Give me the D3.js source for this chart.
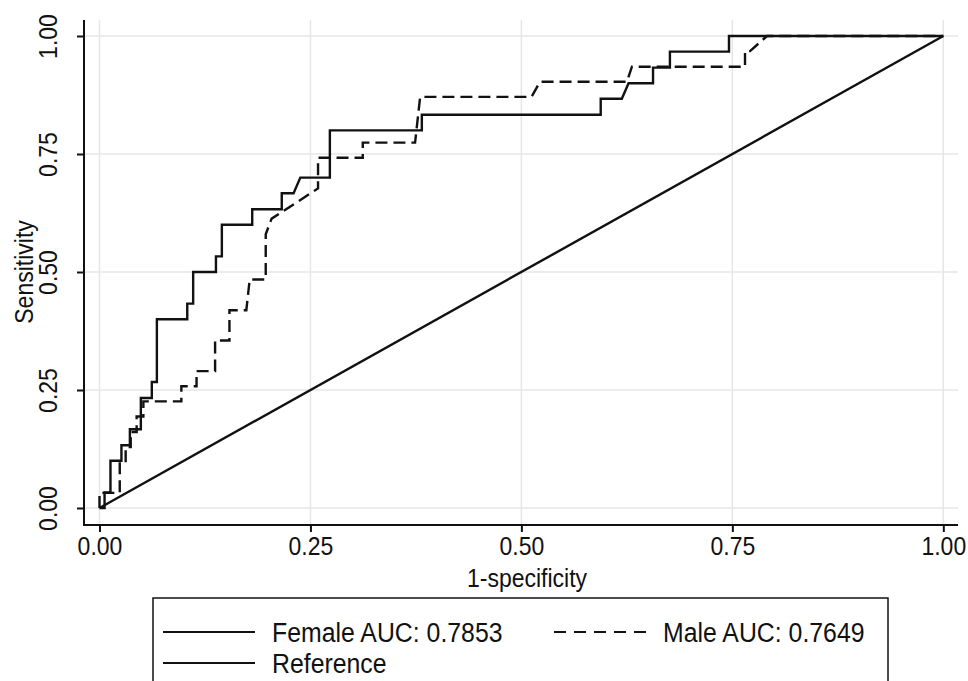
<!DOCTYPE html>
<html>
<head>
<meta charset="utf-8">
<script src="https://cdn.jsdelivr.net/npm/d3@7"></script>
<style>
  body { margin: 0; background: #fff; }
  text { font-family: "Liberation Sans", Arial, sans-serif; fill: #111; }
</style>
</head>
<body>
<div id="container"></div>
<script>
var width = 968,
    height = 681;

// ROC points (1-specificity, sensitivity)
var femaleX = [0, 0.006, 0.006, 0.013, 0.013, 0.026, 0.026, 0.036, 0.036, 0.049, 0.049, 0.062, 0.062, 0.068, 0.068,
               0.104, 0.104, 0.111, 0.111, 0.138, 0.138, 0.145, 0.145, 0.181, 0.181, 0.216, 0.216, 0.230, 0.238,
               0.273, 0.273, 0.382, 0.382, 0.594, 0.594, 0.619, 0.627, 0.656, 0.656, 0.676, 0.676, 0.746, 0.746, 1];
var femaleY = [0, 0, 0.033, 0.033, 0.1, 0.1, 0.133, 0.133, 0.167, 0.167, 0.233, 0.233, 0.267, 0.267, 0.4,
               0.4, 0.433, 0.433, 0.5, 0.5, 0.533, 0.533, 0.6, 0.6, 0.633, 0.633, 0.667, 0.667, 0.7,
               0.7, 0.8, 0.8, 0.833, 0.833, 0.867, 0.867, 0.9, 0.9, 0.933, 0.933, 0.967, 0.967, 1, 1];

var maleX = [0, 0, 0.024, 0.024, 0.031, 0.031, 0.037, 0.037, 0.044, 0.044, 0.052, 0.052, 0.097, 0.097, 0.115, 0.115,
             0.137, 0.137, 0.154, 0.154, 0.174, 0.178, 0.197, 0.197, 0.204, 0.259, 0.259, 0.312, 0.312, 0.374, 0.380,
             0.512, 0.522, 0.625, 0.631, 0.765, 0.765, 0.771, 0.791, 1];
var maleY = [0, 0.032, 0.032, 0.097, 0.097, 0.129, 0.129, 0.161, 0.161, 0.194, 0.194, 0.226, 0.226, 0.258, 0.258, 0.290,
             0.290, 0.355, 0.355, 0.419, 0.419, 0.484, 0.484, 0.58, 0.613, 0.677, 0.742, 0.742, 0.774, 0.774, 0.871,
             0.871, 0.903, 0.903, 0.935, 0.935, 0.968, 0.968, 1, 1];

var refX = [0, 1],
    refY = [0, 1];

var tickValues = [0, 0.25, 0.5, 0.75, 1];
var legendLabels = ["Female AUC: 0.7853", "Male AUC: 0.7649", "Reference"];

var squeeze = 0.92; // the original font is a bit narrower than Arial

var svg = d3.select("#container")
            .append("svg")
            .attr("width", width)
            .attr("height", height);

svg.append("rect").attr("width", width).attr("height", height).attr("fill", "#fff");

// plot region (axis lines) and data region
var region = { left: 84, right: 958, top: 20, bottom: 525 };

var scale_x = d3.scaleLinear().domain([0, 1]).range([99.5, 943.3]);
var scale_y = d3.scaleLinear().domain([0, 1]).range([508, 36]);

// grid
svg.append("g").selectAll("line")
   .data(tickValues).enter().append("line")
   .attr("x1", region.left).attr("x2", region.right)
   .attr("y1", function(d) { return scale_y(d); })
   .attr("y2", function(d) { return scale_y(d); })
   .attr("stroke", "#e6e6e6").attr("stroke-width", 1.5);

svg.append("g").selectAll("line")
   .data(tickValues).enter().append("line")
   .attr("y1", region.top).attr("y2", region.bottom)
   .attr("x1", function(d) { return scale_x(d); })
   .attr("x2", function(d) { return scale_x(d); })
   .attr("stroke", "#e6e6e6").attr("stroke-width", 1.5);

// curves
function toPoints(xs, ys) {
  return xs.map(function(d, i) { return [d, ys[i]]; });
}

var line_generator = d3.line()
    .x(function(d) { return scale_x(d[0]); })
    .y(function(d) { return scale_y(d[1]); });

svg.append("path")
   .attr("d", line_generator(toPoints(refX, refY)))
   .attr("fill", "none").attr("stroke", "#111").attr("stroke-width", 2.4);

svg.append("path")
   .attr("d", line_generator(toPoints(maleX, maleY)))
   .attr("fill", "none").attr("stroke", "#111").attr("stroke-width", 2.4)
   .attr("stroke-dasharray", "12,6");

svg.append("path")
   .attr("d", line_generator(toPoints(femaleX, femaleY)))
   .attr("fill", "none").attr("stroke", "#111").attr("stroke-width", 2.4);

// axes
var x_axis = d3.axisBottom(scale_x).tickValues(tickValues).tickFormat(d3.format(".2f")).tickSize(7).tickPadding(5),
    y_axis = d3.axisLeft(scale_y).tickValues(tickValues).tickFormat(d3.format(".2f")).tickSize(7);

var gx = svg.append("g")
    .attr("transform", "translate(0," + region.bottom + ")")
    .call(x_axis);
gx.select(".domain").remove();
gx.selectAll("line").attr("stroke", "#111").attr("stroke-width", 2);
gx.selectAll("text").attr("font-size", 25).attr("fill", "#111")
  .attr("transform", "scale(" + squeeze + ",1)")
  .attr("font-family", "'Liberation Sans', Arial, sans-serif");

var gy = svg.append("g")
    .attr("transform", "translate(" + region.left + ",0)")
    .call(y_axis);
gy.select(".domain").remove();
gy.selectAll("line").attr("stroke", "#111").attr("stroke-width", 2);
gy.selectAll("text")
  .attr("x", null).attr("dy", null)
  .attr("text-anchor", "middle")
  .attr("transform", "translate(-27,0) rotate(-90) scale(" + squeeze + ",1)")
  .attr("font-size", 25).attr("fill", "#111")
  .attr("font-family", "'Liberation Sans', Arial, sans-serif");

svg.append("line")
   .attr("x1", region.left).attr("x2", region.left)
   .attr("y1", region.top).attr("y2", region.bottom + 1)
   .attr("stroke", "#111").attr("stroke-width", 2);
svg.append("line")
   .attr("x1", region.left - 1).attr("x2", region.right)
   .attr("y1", region.bottom).attr("y2", region.bottom)
   .attr("stroke", "#111").attr("stroke-width", 2);

// axis titles
svg.append("text")
   .attr("transform", "translate(527,587) scale(" + squeeze + ",1)")
   .attr("text-anchor", "middle").attr("font-size", 25)
   .text("1-specificity");

svg.append("text")
   .attr("transform", "translate(33," + ((scale_y(0) + scale_y(1)) / 2) + ") rotate(-90) scale(" + squeeze + ",1)")
   .attr("text-anchor", "middle").attr("font-size", 25)
   .text("Sensitivity");

// legend
var legend = svg.append("g");
legend.append("rect")
   .attr("x", 153).attr("y", 598).attr("width", 735).attr("height", 100)
   .attr("fill", "#fff").attr("stroke", "#111").attr("stroke-width", 1.5);

var legendItems = [
  { label: legendLabels[0], x: 163, y: 632, dash: null },
  { label: legendLabels[1], x: 554, y: 632, dash: "12,8" },
  { label: legendLabels[2], x: 163, y: 663, dash: null }
];

var li = legend.selectAll("g.item").data(legendItems).enter().append("g").attr("class", "item");
li.append("line")
  .attr("x1", function(d) { return d.x; })
  .attr("x2", function(d) { return d.x + 92; })
  .attr("y1", function(d) { return d.y; })
  .attr("y2", function(d) { return d.y; })
  .attr("stroke", "#111").attr("stroke-width", 2)
  .attr("stroke-dasharray", function(d) { return d.dash; });
li.append("text")
  .attr("transform", function(d) { return "translate(" + (d.x + 109) + "," + (d.y + 10) + ") scale(" + squeeze + ",1)"; })
  .attr("font-size", 27)
  .text(function(d) { return d.label; });
</script>
</body>
</html>
